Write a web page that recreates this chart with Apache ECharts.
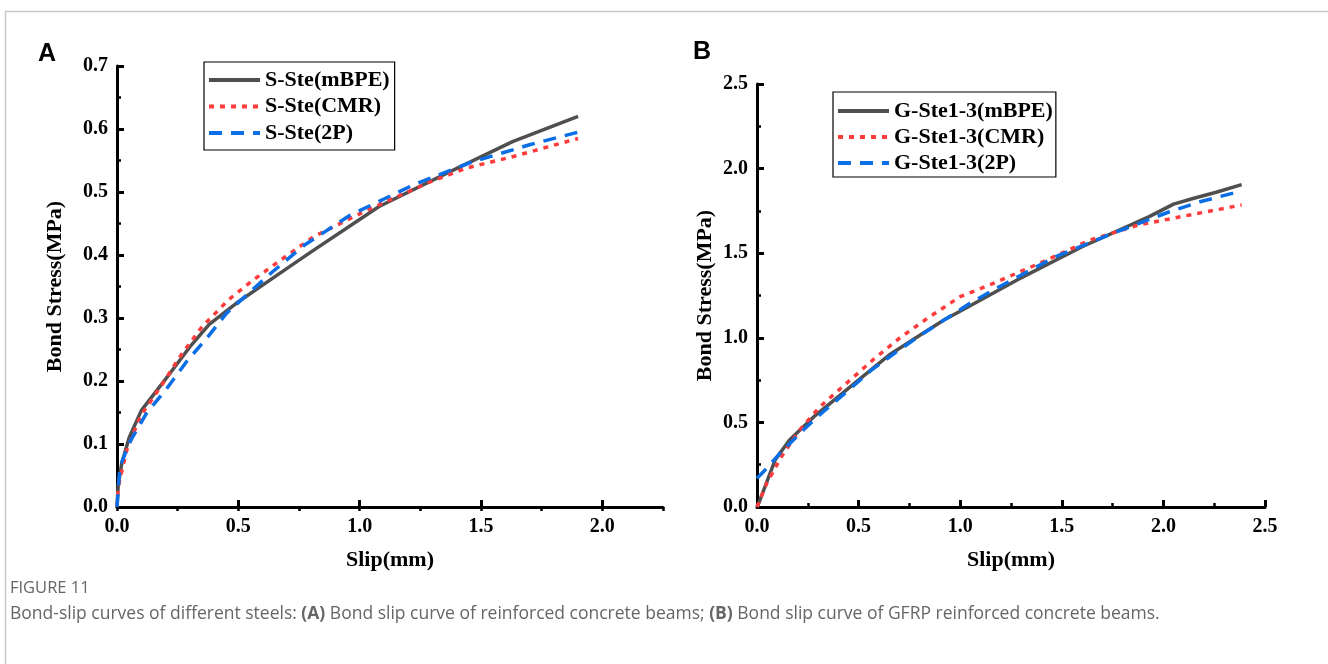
<!DOCTYPE html>
<html>
<head>
<meta charset="utf-8">
<script src="https://cdn.jsdelivr.net/npm/echarts@6/dist/echarts.min.js"></script>
<style>html,body{margin:0;padding:0;background:#fff}#c{width:1328px;height:664px}</style>
</head>
<body>
<div id="c"></div>
<script>
// ---- Panel A data (Slip mm, Bond stress MPa) ----
const aMBPE = [[0,0],[0.005,0.035],[0.02,0.07],[0.05,0.11],[0.1,0.153],[0.15,0.178],[0.22,0.213],[0.3,0.254],[0.38,0.29],[0.49,0.323],[0.66,0.368],[0.8,0.405],[1.08,0.477],[1.36,0.53],[1.63,0.58],[1.9,0.62]];
const aCMR  = [[0,0],[0.005,0.032],[0.04,0.09],[0.095,0.143],[0.18,0.191],[0.26,0.239],[0.35,0.286],[0.46,0.329],[0.56,0.36],[0.7,0.399],[0.81,0.429],[1.03,0.471],[1.29,0.516],[1.44,0.538],[1.63,0.556],[1.9,0.585]];
const a2P   = [[0,0],[0.012,0.064],[0.054,0.104],[0.122,0.149],[0.205,0.188],[0.287,0.231],[0.37,0.268],[0.45,0.307],[0.55,0.342],[0.64,0.373],[0.77,0.415],[0.96,0.463],[1.22,0.511],[1.45,0.546],[1.7,0.575],[1.9,0.595]];
// ---- Panel B data ----
const bMBPE = [[0,0],[0.011,0.03],[0.09,0.28],[0.16,0.396],[0.28,0.534],[0.39,0.642],[0.52,0.77],[0.65,0.898],[0.79,1.006],[0.92,1.105],[1.04,1.184],[1.28,1.342],[1.6,1.538],[1.93,1.716],[2.05,1.79],[2.15,1.825],[2.26,1.86],[2.385,1.905]];
const bCMR  = [[0,0],[0.048,0.14],[0.12,0.297],[0.21,0.455],[0.31,0.593],[0.44,0.731],[0.57,0.869],[0.7,0.997],[0.85,1.125],[1.0,1.243],[1.16,1.32],[1.39,1.44],[1.64,1.578],[1.88,1.667],[2.13,1.726],[2.385,1.785]];
const b2P   = [[0,0.17],[0.04,0.219],[0.113,0.317],[0.228,0.455],[0.326,0.563],[0.441,0.681],[0.564,0.81],[0.688,0.918],[0.818,1.026],[0.934,1.115],[1.048,1.204],[1.19,1.30],[1.47,1.48],[1.75,1.617],[2.03,1.745],[2.18,1.804],[2.36,1.86]];

const namesA = ['S-Ste(mBPE)','S-Ste(CMR)','S-Ste(2P)'];
const namesB = ['G-Ste1-3(mBPE)','G-Ste1-3(CMR)','G-Ste1-3(2P)'];
const xTicksA = [0,0.5,1.0,1.5,2.0];
const xMaxA = 2.25, yMaxA = 0.7, xMaxB = 2.5, yMaxB = 2.5;

const SERIF = 'Liberation Serif, Times New Roman, serif';
const labelStyle = {fontFamily:SERIF,fontWeight:'bold',fontSize:20,color:'#000'};
const nameStyle = {fontFamily:SERIF,fontWeight:'bold',fontSize:22,color:'#000'};

function axisLine(){return {show:true,onZero:false,lineStyle:{color:'#000',width:3}};}
function majorTick(){return {show:true,inside:true,length:7,lineStyle:{color:'#000',width:3}};}
function minorTick(){return {show:true,splitNumber:2,length:4,lineStyle:{color:'#000',width:2.5}};}

const fmt = v => v.toFixed(1);

const chart = echarts.init(document.getElementById('c'));
const colors = {mbpe:'#4f4f4f', cmr:'#ff3b3b', p2:'#0a6fe6'};

function mkSeries(name, data, idx, kind){
  const st = kind==='mbpe' ? {color:colors.mbpe,width:3.5,type:'solid'}
           : kind==='cmr' ? {color:colors.cmr,width:3.5,type:[5,6]}
           : {color:colors.p2,width:3.5,type:[13,9]};
  return {name, type:'line', data, xAxisIndex: idx===0?0:2, yAxisIndex: idx, symbol:'none', showSymbol:false, smooth:false, lineStyle:st, itemStyle:{color:st.color}, z: kind==='mbpe'?2:(kind==='cmr'?3:4), animation:false};
}

const legendTextStyle = {fontFamily:SERIF,fontWeight:'bold',fontSize:22,color:'#000'};
const legendBase = {orient:'vertical', itemWidth:51, itemHeight:14, borderColor:'#000', borderWidth:1.2, backgroundColor:'#fff',
  textStyle:legendTextStyle, selectedMode:false, itemStyle:{opacity:0}, lineStyle:{width:4}};

const option = {
  backgroundColor:'#fff',
  animation:false,
  grid:[
    {left:117, top:66, width:546, height:441},
    {left:757, top:84, width:508, height:423}
  ],
  xAxis:[
    {type:'value', gridIndex:0, min:0, max:xMaxA, interval:0.5, axisLine:axisLine(),
     axisTick:{...majorTick(), customValues:xTicksA}, minorTick:{show:false}, splitLine:{show:false},
     axisLabel:{...labelStyle, margin:10, formatter:fmt, customValues:xTicksA},
     name:'Slip(mm)', nameLocation:'middle', nameGap:42, nameTextStyle:nameStyle},
    {type:'value', gridIndex:0, min:0, max:xMaxA, interval:0.25, axisLine:{show:false},
     axisTick:{show:true,inside:true,length:4,lineStyle:{color:'#000',width:2.5}}, splitLine:{show:false}, axisLabel:{show:false}},
    {type:'value', gridIndex:1, min:0, max:xMaxB, interval:0.5, axisLine:axisLine(), axisTick:majorTick(), minorTick:minorTick(), splitLine:{show:false},
     axisLabel:{...labelStyle, margin:10, formatter:fmt},
     name:'Slip(mm)', nameLocation:'middle', nameGap:42, nameTextStyle:nameStyle}
  ],
  yAxis:[
    {type:'value', gridIndex:0, min:0, max:yMaxA, interval:0.1, axisLine:axisLine(), axisTick:majorTick(), minorTick:minorTick(), splitLine:{show:false},
     axisLabel:{...labelStyle, margin:9, formatter:fmt},
     name:'Bond Stress(MPa)', nameLocation:'middle', nameGap:51, nameTextStyle:nameStyle},
    {type:'value', gridIndex:1, min:0, max:yMaxB, interval:0.5, axisLine:axisLine(), axisTick:majorTick(), minorTick:minorTick(), splitLine:{show:false},
     axisLabel:{...labelStyle, margin:9, formatter:fmt},
     name:'Bond Stress(MPa)', nameLocation:'middle', nameGap:41, nameTextStyle:nameStyle}
  ],
  legend:[
    {...legendBase, data:namesA, left:204, top:62, padding:[7,5,6,3], itemGap:4.5},
    {...legendBase, data:namesB, left:833, top:92, padding:[8,3,3,3], itemGap:4}
  ],
  series:[
    mkSeries(namesA[0], aMBPE, 0, 'mbpe'),
    mkSeries(namesA[1], aCMR, 0, 'cmr'),
    mkSeries(namesA[2], a2P, 0, 'p2'),
    mkSeries(namesB[0], bMBPE, 1, 'mbpe'),
    mkSeries(namesB[1], bCMR, 1, 'cmr'),
    mkSeries(namesB[2], b2P, 1, 'p2')
  ],
  graphic:[
    {type:'line', shape:{x1:5,y1:11.5,x2:1328,y2:11.5}, style:{stroke:'#c8c8c8',lineWidth:1.5}, silent:true},
    {type:'line', shape:{x1:5.5,y1:11,x2:5.5,y2:664}, style:{stroke:'#c8c8c8',lineWidth:1.5}, silent:true},
    {type:'text', left:38, top:42, style:{text:'A', font:'bold 25px "Liberation Sans", Arial, sans-serif', fill:'#000'}},
    {type:'text', left:693, top:40, style:{text:'B', font:'bold 25px "Liberation Sans", Arial, sans-serif', fill:'#000'}},
    {type:'text', left:10, top:580, style:{text:'FIGURE 11', font:'16.5px "Open Sans", sans-serif', fill:'#666'}},
    {type:'text', left:10, top:605, style:{
      text:'Bond-slip curves of different steels: {b|(A)} Bond slip curve of reinforced concrete beams; {b|(B)} Bond slip curve of GFRP reinforced concrete beams.',
      font:'17.5px "Open Sans", sans-serif', fill:'#666',
      rich:{b:{fontWeight:'bold', fontFamily:'Open Sans', fontSize:17.5, fill:'#666'}}}}
  ]
};
chart.setOption(option);
</script>
</body>
</html>
